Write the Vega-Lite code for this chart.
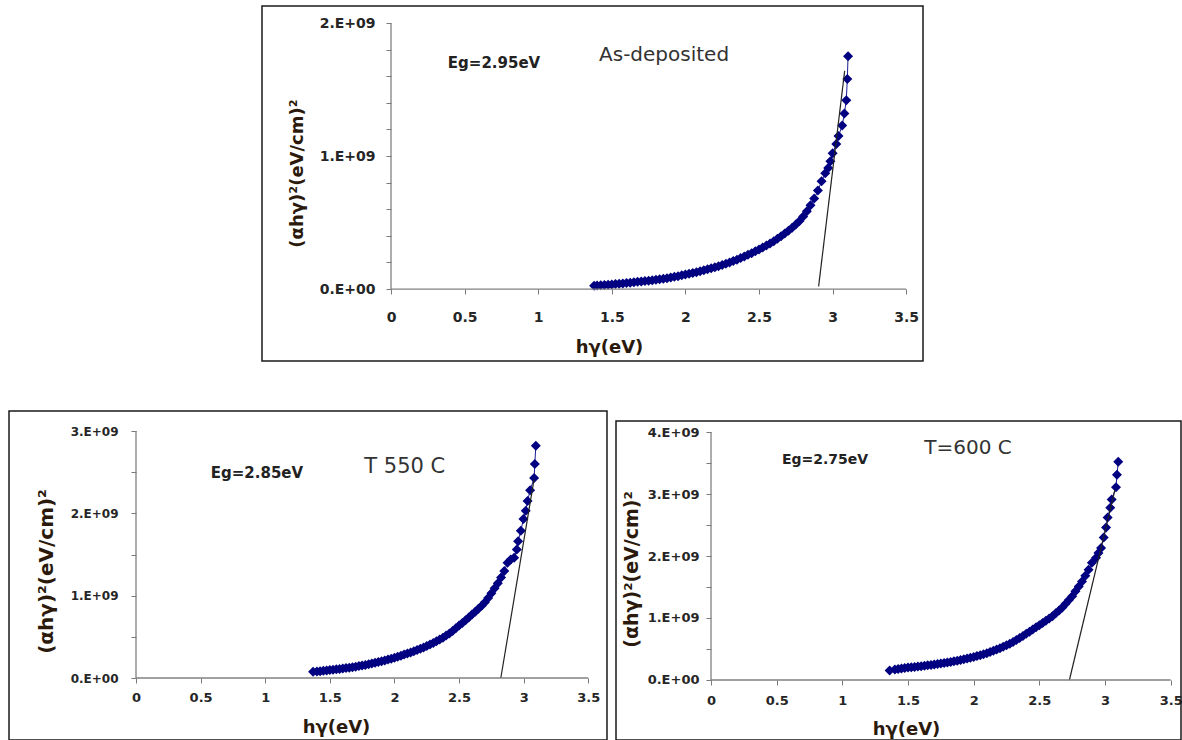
{
  "$schema": "https://vega.github.io/schema/vega-lite/v6.json",
  "background": "white",
  "padding": {"left": 8, "top": 5, "right": 0, "bottom": 0},
  "config": {
    "view": {"stroke": "#1a1a1a", "strokeWidth": 1.5},
    "font": "DejaVu Sans",
    "axis": {"grid": false, "domain": false, "labelOverlap": false, "tickCount": 30, "tickColor": "#7a7a7a", "tickSize": 5, "labelFont": "DejaVu Sans", "labelFontWeight": "bold", "labelColor": "#262626", "titleFont": "DejaVu Sans", "titleFontWeight": "bold", "titleColor": "#2b1a0c"}
  },
  "datasets": {
    "asdep": [
      {"hv":1.38,"y":0.025},{"hv":1.40,"y":0.027},{"hv":1.425,"y":0.029},{"hv":1.45,"y":0.031},{"hv":1.475,"y":0.033},{"hv":1.50,"y":0.035},{"hv":1.525,"y":0.037},{"hv":1.55,"y":0.040},{"hv":1.575,"y":0.042},{"hv":1.60,"y":0.045},{"hv":1.625,"y":0.048},{"hv":1.65,"y":0.051},{"hv":1.675,"y":0.054},{"hv":1.70,"y":0.057},{"hv":1.725,"y":0.060},{"hv":1.75,"y":0.063},{"hv":1.775,"y":0.067},{"hv":1.80,"y":0.070},{"hv":1.825,"y":0.074},{"hv":1.85,"y":0.078},{"hv":1.875,"y":0.082},{"hv":1.90,"y":0.087},{"hv":1.925,"y":0.092},{"hv":1.95,"y":0.097},{"hv":1.975,"y":0.103},{"hv":2.00,"y":0.109},{"hv":2.025,"y":0.115},{"hv":2.05,"y":0.121},{"hv":2.075,"y":0.127},{"hv":2.10,"y":0.134},{"hv":2.125,"y":0.141},{"hv":2.15,"y":0.148},{"hv":2.175,"y":0.156},{"hv":2.20,"y":0.164},{"hv":2.225,"y":0.172},{"hv":2.25,"y":0.181},{"hv":2.275,"y":0.190},{"hv":2.30,"y":0.200},{"hv":2.325,"y":0.210},{"hv":2.35,"y":0.221},{"hv":2.375,"y":0.233},{"hv":2.40,"y":0.245},{"hv":2.425,"y":0.257},{"hv":2.45,"y":0.270},{"hv":2.475,"y":0.284},{"hv":2.50,"y":0.298},{"hv":2.525,"y":0.312},{"hv":2.55,"y":0.327},{"hv":2.575,"y":0.343},{"hv":2.60,"y":0.360},{"hv":2.625,"y":0.378},{"hv":2.65,"y":0.397},{"hv":2.675,"y":0.417},{"hv":2.70,"y":0.438},{"hv":2.725,"y":0.461},{"hv":2.75,"y":0.485},{"hv":2.775,"y":0.512},{"hv":2.80,"y":0.545},{"hv":2.825,"y":0.585},{"hv":2.85,"y":0.630},{"hv":2.875,"y":0.680},{"hv":2.90,"y":0.740},{"hv":2.925,"y":0.810},{"hv":2.95,"y":0.870},{"hv":2.97,"y":0.910},{"hv":2.985,"y":0.960},{"hv":3.00,"y":1.02},{"hv":3.025,"y":1.09},{"hv":3.04,"y":1.15},{"hv":3.065,"y":1.23},{"hv":3.08,"y":1.32},{"hv":3.093,"y":1.42},{"hv":3.10,"y":1.58},{"hv":3.105,"y":1.75}
    ],
    "t550": [
      {"hv":1.37,"y":0.076},{"hv":1.40,"y":0.080},{"hv":1.425,"y":0.083},{"hv":1.45,"y":0.087},{"hv":1.475,"y":0.091},{"hv":1.50,"y":0.096},{"hv":1.525,"y":0.100},{"hv":1.55,"y":0.105},{"hv":1.575,"y":0.110},{"hv":1.60,"y":0.115},{"hv":1.625,"y":0.120},{"hv":1.65,"y":0.126},{"hv":1.675,"y":0.132},{"hv":1.70,"y":0.138},{"hv":1.725,"y":0.145},{"hv":1.75,"y":0.152},{"hv":1.775,"y":0.159},{"hv":1.80,"y":0.167},{"hv":1.825,"y":0.175},{"hv":1.85,"y":0.184},{"hv":1.875,"y":0.193},{"hv":1.90,"y":0.203},{"hv":1.925,"y":0.213},{"hv":1.95,"y":0.224},{"hv":1.975,"y":0.235},{"hv":2.00,"y":0.247},{"hv":2.025,"y":0.259},{"hv":2.05,"y":0.271},{"hv":2.075,"y":0.284},{"hv":2.10,"y":0.297},{"hv":2.125,"y":0.311},{"hv":2.15,"y":0.325},{"hv":2.175,"y":0.340},{"hv":2.20,"y":0.356},{"hv":2.225,"y":0.372},{"hv":2.25,"y":0.389},{"hv":2.275,"y":0.407},{"hv":2.30,"y":0.426},{"hv":2.325,"y":0.446},{"hv":2.35,"y":0.467},{"hv":2.375,"y":0.490},{"hv":2.40,"y":0.515},{"hv":2.425,"y":0.542},{"hv":2.45,"y":0.571},{"hv":2.475,"y":0.603},{"hv":2.50,"y":0.637},{"hv":2.525,"y":0.668},{"hv":2.55,"y":0.700},{"hv":2.575,"y":0.734},{"hv":2.60,"y":0.770},{"hv":2.625,"y":0.805},{"hv":2.65,"y":0.840},{"hv":2.675,"y":0.878},{"hv":2.70,"y":0.920},{"hv":2.725,"y":0.972},{"hv":2.75,"y":1.03},{"hv":2.775,"y":1.09},{"hv":2.80,"y":1.15},{"hv":2.825,"y":1.22},{"hv":2.85,"y":1.30},{"hv":2.875,"y":1.40},{"hv":2.90,"y":1.44},{"hv":2.926,"y":1.46},{"hv":2.947,"y":1.56},{"hv":2.957,"y":1.66},{"hv":2.978,"y":1.79},{"hv":2.998,"y":1.93},{"hv":3.016,"y":2.03},{"hv":3.03,"y":2.15},{"hv":3.05,"y":2.28},{"hv":3.081,"y":2.43},{"hv":3.086,"y":2.60},{"hv":3.094,"y":2.82}
    ],
    "t600": [
      {"hv":1.36,"y":0.155},{"hv":1.40,"y":0.170},{"hv":1.425,"y":0.178},{"hv":1.45,"y":0.186},{"hv":1.475,"y":0.194},{"hv":1.50,"y":0.200},{"hv":1.525,"y":0.205},{"hv":1.55,"y":0.211},{"hv":1.575,"y":0.217},{"hv":1.60,"y":0.223},{"hv":1.625,"y":0.229},{"hv":1.65,"y":0.236},{"hv":1.675,"y":0.243},{"hv":1.70,"y":0.250},{"hv":1.725,"y":0.258},{"hv":1.75,"y":0.266},{"hv":1.775,"y":0.274},{"hv":1.80,"y":0.283},{"hv":1.825,"y":0.292},{"hv":1.85,"y":0.302},{"hv":1.875,"y":0.312},{"hv":1.90,"y":0.323},{"hv":1.925,"y":0.334},{"hv":1.95,"y":0.346},{"hv":1.975,"y":0.358},{"hv":2.00,"y":0.371},{"hv":2.025,"y":0.385},{"hv":2.05,"y":0.400},{"hv":2.075,"y":0.416},{"hv":2.10,"y":0.433},{"hv":2.125,"y":0.451},{"hv":2.15,"y":0.470},{"hv":2.175,"y":0.490},{"hv":2.20,"y":0.512},{"hv":2.225,"y":0.535},{"hv":2.25,"y":0.560},{"hv":2.275,"y":0.586},{"hv":2.30,"y":0.614},{"hv":2.325,"y":0.644},{"hv":2.35,"y":0.676},{"hv":2.375,"y":0.710},{"hv":2.40,"y":0.745},{"hv":2.425,"y":0.780},{"hv":2.45,"y":0.815},{"hv":2.475,"y":0.850},{"hv":2.50,"y":0.885},{"hv":2.525,"y":0.920},{"hv":2.55,"y":0.955},{"hv":2.575,"y":0.990},{"hv":2.60,"y":1.03},{"hv":2.625,"y":1.075},{"hv":2.65,"y":1.12},{"hv":2.675,"y":1.17},{"hv":2.70,"y":1.23},{"hv":2.725,"y":1.29},{"hv":2.75,"y":1.35},{"hv":2.775,"y":1.43},{"hv":2.80,"y":1.51},{"hv":2.825,"y":1.59},{"hv":2.85,"y":1.68},{"hv":2.875,"y":1.78},{"hv":2.90,"y":1.89},{"hv":2.932,"y":1.97},{"hv":2.95,"y":2.05},{"hv":2.97,"y":2.13},{"hv":2.99,"y":2.30},{"hv":3.008,"y":2.46},{"hv":3.02,"y":2.62},{"hv":3.04,"y":2.78},{"hv":3.051,"y":2.91},{"hv":3.084,"y":3.11},{"hv":3.091,"y":3.31},{"hv":3.101,"y":3.52}
    ],
    "tanA": [{"hv":2.905,"y":0.02},{"hv":3.082,"y":1.64}],
    "tanB": [{"hv":2.823,"y":0.0},{"hv":3.08,"y":2.41}],
    "tanC": [{"hv":2.729,"y":0.0},{"hv":3.076,"y":3.07}],
    "one": [{}]
  },
  "spacing": 50,
  "bounds": "flush",
  "vconcat": [
    {
      "width": 1172,
      "height": 355,
      "view": {"stroke": null},
      "layer": [
        {
          "data": {"name": "asdep"},
          "mark": {"type": "line", "color": "#1c1c96", "strokeWidth": 1},
          "encoding": {
            "x": {"field": "hv", "type": "quantitative", "scale": {"domain": [-2.5951, 5.3668], "nice": false, "zero": false},
              "axis": {"title": "hγ(eV)", "values": [0,0.5,1,1.5,2,2.5,3,3.5], "tickCount": 30, "labelExpr": "datum.value + ''", "offset": -72, "labelFontSize": 14, "labelPadding": 16, "titleFontSize": 18, "titleX": 600, "titleY": 49, "titleAlign": "center", "titleBaseline": "top"}},
            "y": {"field": "y", "type": "quantitative", "scale": {"domain": [-0.541, 2.128], "nice": false, "zero": false},
              "axis": {"title": "(αhγ)²(eV/cm)²", "values": [0,0.2,0.4,0.6,0.8,1,1.2,1.4,1.6,1.8,2], "tickCount": 30, "labelExpr": "datum.value == 0 ? '0.E+00' : (datum.value % 1 == 0 ? datum.value + '.E+09' : '')", "offset": -382, "labelFontSize": 14, "labelPadding": 11, "titleFontSize": 18, "titleX": -94, "titleY": 167, "titleAlign": "center", "titleBaseline": "middle"}}
          }
        },
        {"data": {"name": "asdep"}, "mark": {"type": "point", "shape": "diamond", "filled": true, "color": "#000080", "size": 100, "opacity": 1}, "encoding": {"x": {"field": "hv", "type": "quantitative"}, "y": {"field": "y", "type": "quantitative"}}},
        {"data": {"name": "tanA"}, "mark": {"type": "line", "color": "#222222", "strokeWidth": 1.2}, "encoding": {"x": {"field": "hv", "type": "quantitative"}, "y": {"field": "y", "type": "quantitative"}}},
        {"data": {"name": "one"}, "mark": {"type": "rect", "filled": false, "stroke": "#1a1a1a", "strokeWidth": 1.5}, "encoding": {"x": {"datum": -0.8764}, "x2": {"datum": 3.6141}, "y": {"datum": -0.541}, "y2": {"datum": 2.128}}},
        {"data": {"name": "one"}, "mark": {"type": "rule", "color": "#808080", "strokeWidth": 1.3}, "encoding": {"x": {"datum": 0}, "x2": {"datum": 3.5}, "y": {"datum": 0}}},
        {"data": {"name": "one"}, "mark": {"type": "rule", "color": "#808080", "strokeWidth": 1.3}, "encoding": {"x": {"datum": 0}, "y": {"datum": 0}, "y2": {"datum": 2}}},
        {"data": {"name": "one"}, "mark": {"type": "text", "text": "Eg=2.95eV", "font": "DejaVu Sans", "fontWeight": "bold", "fontSize": 15, "color": "#222222"}, "encoding": {"x": {"datum": 0.70}, "y": {"datum": 1.70}}},
        {"data": {"name": "one"}, "mark": {"type": "text", "text": "As-deposited", "font": "DejaVu Sans", "fontSize": 20, "color": "#333333"}, "encoding": {"x": {"datum": 1.855}, "y": {"datum": 1.76}}}
      ]
    },
    {
      "spacing": 9,
      "bounds": "flush",
      "hconcat": [
        {
          "width": 598,
          "height": 329,
          "layer": [
            {
              "data": {"name": "t550"},
              "mark": {"type": "line", "color": "#1c1c96", "strokeWidth": 1},
              "encoding": {
                "x": {"field": "hv", "type": "quantitative", "scale": {"domain": [-0.9827, 3.6447], "nice": false, "zero": false},
                  "axis": {"title": "hγ(eV)", "values": [0,0.5,1,1.5,2,2.5,3,3.5], "tickCount": 30, "labelExpr": "datum.value + ''", "offset": -62, "labelFontSize": 13, "labelPadding": 8, "titleFontSize": 18, "titleX": 327, "titleY": 40, "titleAlign": "center", "titleBaseline": "top"}},
                "y": {"field": "y", "type": "quantitative", "scale": {"domain": [-0.753, 3.243], "nice": false, "zero": false},
                  "axis": {"title": "(αhγ)²(eV/cm)²", "values": [0,0.5,1,1.5,2,2.5,3], "tickCount": 30, "labelExpr": "datum.value == 0 ? '0.E+00' : (datum.value % 1 == 0 ? datum.value + '.E+09' : '')", "offset": -127, "labelFontSize": 12, "labelPadding": 13, "titleFontSize": 20, "titleX": -90, "titleY": 160, "titleAlign": "center", "titleBaseline": "middle"}}
              }
            },
            {"data": {"name": "t550"}, "mark": {"type": "point", "shape": "diamond", "filled": true, "color": "#000080", "size": 100, "opacity": 1}, "encoding": {"x": {"field": "hv", "type": "quantitative"}, "y": {"field": "y", "type": "quantitative"}}},
            {"data": {"name": "tanB"}, "mark": {"type": "line", "color": "#222222", "strokeWidth": 1.2}, "encoding": {"x": {"field": "hv", "type": "quantitative"}, "y": {"field": "y", "type": "quantitative"}}},
            {"data": {"name": "one"}, "mark": {"type": "rule", "color": "#808080", "strokeWidth": 1.3}, "encoding": {"x": {"datum": 0}, "x2": {"datum": 3.5}, "y": {"datum": 0}}},
            {"data": {"name": "one"}, "mark": {"type": "rule", "color": "#808080", "strokeWidth": 1.3}, "encoding": {"x": {"datum": 0}, "y": {"datum": 0}, "y2": {"datum": 3}}},
            {"data": {"name": "one"}, "mark": {"type": "text", "text": "Eg=2.85eV", "font": "DejaVu Sans", "fontWeight": "bold", "fontSize": 15, "color": "#222222"}, "encoding": {"x": {"datum": 0.936}, "y": {"datum": 2.49}}},
            {"data": {"name": "one"}, "mark": {"type": "text", "text": "T 550 C", "font": "DejaVu Sans", "fontSize": 21, "color": "#333333"}, "encoding": {"x": {"datum": 2.08}, "y": {"datum": 2.56}}}
          ]
        },
        {
          "width": 565,
          "height": 329,
          "view": {"stroke": null},
          "layer": [
            {
              "data": {"name": "t600"},
              "mark": {"type": "line", "color": "#1c1c96", "strokeWidth": 1},
              "encoding": {
                "x": {"field": "hv", "type": "quantitative", "scale": {"domain": [-0.7234, 3.5787], "nice": false, "zero": false},
                  "axis": {"title": "hγ(eV)", "values": [0,0.5,1,1.5,2,2.5,3,3.5], "tickCount": 30, "labelExpr": "datum.value + ''", "offset": -60, "labelFontSize": 13, "labelPadding": 9, "titleFontSize": 18, "titleX": 290, "titleY": 40, "titleAlign": "center", "titleBaseline": "top"}},
                "y": {"field": "y", "type": "quantitative", "scale": {"domain": [-0.968, 4.339], "nice": false, "zero": false},
                  "axis": {"title": "(αhγ)²(eV/cm)²", "values": [0,0.5,1,1.5,2,2.5,3,3.5,4], "tickCount": 30, "labelExpr": "datum.value == 0 ? '0.E+00' : (datum.value % 1 == 0 ? datum.value + '.E+09' : '')", "offset": -95, "labelFontSize": 13, "labelPadding": 7, "titleFontSize": 19, "titleX": -80, "titleY": 158, "titleAlign": "center", "titleBaseline": "middle"}}
              }
            },
            {"data": {"name": "t600"}, "mark": {"type": "point", "shape": "diamond", "filled": true, "color": "#000080", "size": 100, "opacity": 1}, "encoding": {"x": {"field": "hv", "type": "quantitative"}, "y": {"field": "y", "type": "quantitative"}}},
            {"data": {"name": "tanC"}, "mark": {"type": "line", "color": "#222222", "strokeWidth": 1.2}, "encoding": {"x": {"field": "hv", "type": "quantitative"}, "y": {"field": "y", "type": "quantitative"}}},
            {"data": {"name": "one"}, "mark": {"type": "rect", "filled": false, "stroke": "#1a1a1a", "strokeWidth": 1.5}, "encoding": {"x": {"datum": -0.7234}, "x2": {"datum": 3.5787}, "y": {"datum": -0.968}, "y2": {"datum": 4.177}}},
            {"data": {"name": "one"}, "mark": {"type": "rule", "color": "#808080", "strokeWidth": 1.3}, "encoding": {"x": {"datum": 0}, "x2": {"datum": 3.5}, "y": {"datum": 0}}},
            {"data": {"name": "one"}, "mark": {"type": "rule", "color": "#808080", "strokeWidth": 1.3}, "encoding": {"x": {"datum": 0}, "y": {"datum": 0}, "y2": {"datum": 4}}},
            {"data": {"name": "one"}, "mark": {"type": "text", "text": "Eg=2.75eV", "font": "DejaVu Sans", "fontWeight": "bold", "fontSize": 14, "color": "#222222"}, "encoding": {"x": {"datum": 0.868}, "y": {"datum": 3.55}}},
            {"data": {"name": "one"}, "mark": {"type": "text", "text": "T=600  C", "font": "DejaVu Sans", "fontSize": 20, "color": "#333333"}, "encoding": {"x": {"datum": 1.957}, "y": {"datum": 3.74}}}
          ]
        }
      ]
    }
  ]
}
